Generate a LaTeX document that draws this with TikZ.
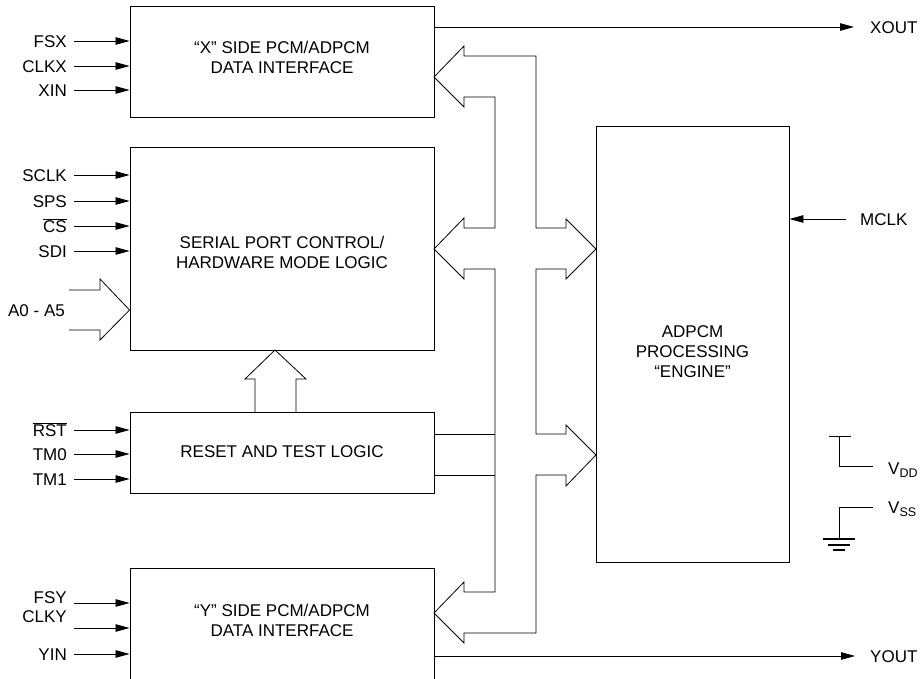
\documentclass[tikz,border=0pt]{standalone}
\usepackage{fontspec}
\setmainfont{Liberation Sans}
\usetikzlibrary{arrows.meta}
\newcommand{\subtxt}[1]{\raisebox{-3.5pt}{\fontsize{12.5}{14}\selectfont #1}}
\begin{document}
\begin{tikzpicture}[x=1pt,y=-1pt,
  box/.style={draw, line width=0.9pt, inner sep=0pt},
  sig/.style={line width=0.8pt, -{Triangle[length=14pt,width=7.5pt]}},
  lbl/.style={inner sep=0pt, text height=12.2pt, text depth=0pt, font=\fontsize{17}{20}\selectfont},
  txt/.style={align=center, inner sep=0pt, font=\fontsize{17}{20}\selectfont},
  bus/.style={line width=0.8pt, line join=miter},
  gnd/.style={line width=1.3pt}]
\useasboundingbox (0,0) rectangle (922,679);

% blocks
\node[box, minimum width=304pt, minimum height=111pt] (xbox) at (282,61.5) {};
\node[txt] (xtext) at (282,57) {“X” SIDE PCM/ADPCM\\DATA INTERFACE};
\node[box, minimum width=304pt, minimum height=203pt] (serial) at (282,248.5) {};
\node[txt] (stext) at (282,252) {SERIAL PORT CONTROL/\\HARDWARE MODE LOGIC};
\node[box, minimum width=304pt, minimum height=81pt] (reset) at (282,452.5) {};
\node[txt] (rtext) at (282,452) {RESET AND TEST LOGIC};
\node[box, minimum width=304pt, minimum height=152pt] (ybox) at (282,644) {};
\node[txt] (ytext) at (282,620) {“Y” SIDE PCM/ADPCM\\DATA INTERFACE};
\node[box, minimum width=193pt, minimum height=436pt] (adpcm) at (692.5,344) {};
\node[txt] (atext) at (692.5,352) {ADPCM\\PROCESSING\\“ENGINE”};

% X side inputs
\node[lbl, anchor=east] (fsx) at (67,41) {FSX};
\node[lbl, anchor=east] (clkx) at (67,66) {CLKX};
\node[lbl, anchor=east] (xin) at (67,90) {XIN};
\foreach \n in {fsx,clkx,xin}
  \draw[sig] ([xshift=7pt]\n.east) -- (\n.east -| xbox.west);

% serial inputs
\node[lbl, anchor=east] (sclk) at (67,175) {SCLK};
\node[lbl, anchor=east] (sps) at (67,201) {SPS};
\node[lbl, anchor=east] (cs) at (67,226) {$\overline{\hbox{CS}}$};
\node[lbl, anchor=east] (sdi) at (67,251) {SDI};
\foreach \n in {sclk,sps,cs,sdi}
  \draw[sig] ([xshift=7pt]\n.east) -- (\n.east -| serial.west);

% A0 - A5 bus
\node[lbl] (a0) at (36.5,310) {A0 - A5};
\draw[bus] (69,290) -- (100,290) -- (100,279) -- (serial.west |- a0) -- (100,340) -- (100,330) -- (69,330);

% reset inputs
\node[lbl, anchor=east] (rst) at (67,430) {$\overline{\hbox{RST}}$};
\node[lbl, anchor=east] (tm0) at (67,454) {TM0};
\node[lbl, anchor=east] (tm1) at (67,479) {TM1};
\foreach \n in {rst,tm0,tm1}
  \draw[sig] ([xshift=7pt]\n.east) -- (\n.east -| reset.west);

% reset -> serial bus arrow
\draw[bus] (255,412) -- (255,379) -- (245,379) -- (275,350) -- (306,379) -- (296,379) -- (296,412);

% Y side inputs
\node[lbl, anchor=east] (fsy) at (67,597) {FSY};
\node[lbl, anchor=east] (clky) at (67,616) {CLKY};
\node[lbl, anchor=east] (yin) at (67,654) {YIN};
\coordinate (fsyS) at (74,603);
\coordinate (clkyS) at (74,628);
\draw[sig] (fsyS) -- (fsyS -| ybox.west);
\draw[sig] (clkyS) -- (clkyS -| ybox.west);
\draw[sig] ([xshift=7pt]yin.east) -- (yin.east -| ybox.west);

% outputs
\node[lbl, anchor=west] (xout) at (870,27) {XOUT};
\draw[sig] (xbox.east |- xout.west) -- ([xshift=-16pt]xout.west);
\node[lbl, anchor=west] (yout) at (870,656) {YOUT};
\draw[sig] (ybox.east |- yout.west) -- ([xshift=-15pt]yout.west);
\node[lbl, anchor=west] (mclk) at (860,219) {MCLK};
\draw[sig] ([xshift=-14pt]mclk.west) -- (mclk.west -| adpcm.east);

% internal bus
\draw[bus] (495,592) -- (464,592) -- (464,582) -- (434,613) -- (464,643) -- (464,633)
  -- (536,633) -- (536,475) -- (566,475) -- (566,486) -- (596,455) -- (566,425) -- (566,434)
  -- (536,434) -- (536,269) -- (566,269) -- (566,279) -- (596,249) -- (566,219) -- (566,228)
  -- (536,228) -- (536,56) -- (464,56) -- (464,46) -- (434,77) -- (464,107) -- (464,97)
  -- (495,97) -- (495,228) -- (464,228) -- (464,218) -- (434,249) -- (464,279) -- (464,269)
  -- (495,269) -- cycle;
\draw[bus] (reset.east |- 0,434) -- (495,434);
\draw[bus] (reset.east |- 0,475) -- (495,475);

% supplies
\node[inner sep=0pt, anchor=base west, font=\fontsize{17}{20}\selectfont] (vdd) at (888,474) {V\subtxt{DD}};
\node[inner sep=0pt, anchor=base west, font=\fontsize{17}{20}\selectfont] (vss) at (888,513) {V\subtxt{SS}};
\draw[line width=0.8pt] (829,436) -- (851,436);
\draw[line width=0.8pt] (839,436) |- (873,466);
\draw[line width=0.8pt] (873,507) -| (839,539);
\draw[gnd] (823,539) -- (855,539);
\draw[gnd] (828,545) -- (850,545);
\draw[gnd] (833,550) -- (845,550);
\end{tikzpicture}
\end{document}
